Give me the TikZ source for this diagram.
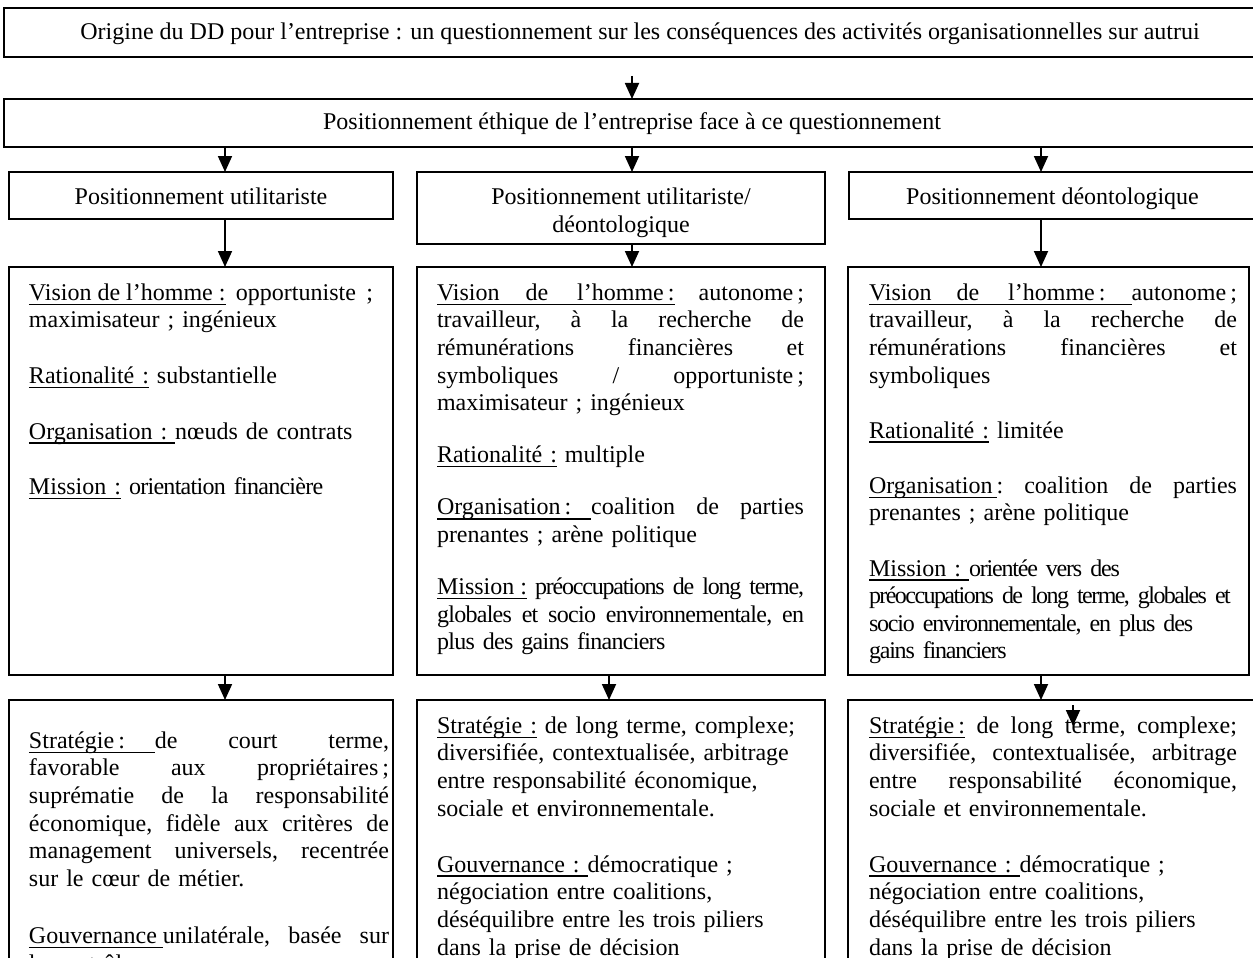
\documentclass[tikz,border=0pt]{standalone}
\usepackage{fontspec}
\setmainfont{Liberation Serif}
\newfontfamily\tight[LetterSpace=-3]{Liberation Serif}
\newfontfamily\tighter[LetterSpace=-5]{Liberation Serif}
\newfontfamily\tightest[LetterSpace=-6.5]{Liberation Serif}
\usetikzlibrary{arrows.meta}

\newcommand\ulabel[1]{\setbox0\hbox{#1}%
  \rlap{\vrule width\wd0 height -3.2pt depth 4.6pt}\box0\relax}
\newcommand\jl[1]{\hbox to\hsize{\frenchspacing
  \spaceskip=\fontdimen2\font plus 1fil minus \fontdimen4\font\strut#1}}
\newcommand\rl[1]{\hbox{\strut#1}}
\newcommand\celltext[6]{\hbox{\hskip#2\relax\vbox to #1{\hsize=\dimexpr\linewidth-#2-#3\relax
  \def\cellgap{\vskip#4\relax}\vskip#5\relax #6\vfil}}}

\begin{document}
\begin{tikzpicture}[x=1pt,y=-1pt,font=\fontsize{24}{27.6}\selectfont,
  box/.style={draw, line width=1.8pt, inner sep=0pt, outer sep=0pt},
  titlebox/.style={box, text height=17pt, text depth=#1},
  cell/.style={box, anchor=north west},
  arr/.style={line width=1.8pt, -{Triangle[width=14pt,length=16pt]}}]

\useasboundingbox (0,0) rectangle (1253,958);
\clip (0,0) rectangle (1253,958);

\node[titlebox=3pt, minimum width=1272pt, minimum height=49pt] (origine) at (640,32.5)
  {Origine du DD pour l’entreprise : un questionnement sur les conséquences des activités organisationnelles sur autrui};

\node[box, minimum width=1272pt, minimum height=48pt] (ethique) at (640,123) {};
\node (ethiquetxt) at (632,124) {Positionnement éthique de l’entreprise face à ce questionnement};

\node[titlebox=0pt, minimum width=384pt, minimum height=47pt] (util) at (201,195.5) {Positionnement utilitariste};
\node[box, minimum width=408pt, minimum height=72pt] (mixte) at (621,208) {};
\node[align=center] (mixtetxt) at (621,213) {Positionnement utilitariste/\\déontologique};
\node[titlebox=0pt, minimum width=407pt, minimum height=47pt] (deonto) at (1052.5,195.5) {Positionnement déontologique};

\node[cell, text width=384pt] (vis1) at (9,267) {\celltext{408pt}{20pt}{20pt}{28pt}{14pt}{%
\jl{\ulabel{Vision de l’homme :} opportuniste ;}
\rl{maximisateur ; ingénieux}
\cellgap
\rl{\ulabel{Rationalité :} substantielle}
\cellgap
\rl{\ulabel{Organisation :\ }nœuds de contrats}
\cellgap
\rl{\ulabel{Mission :} {\tight orientation financière}}}};

\node[cell, text width=408pt] (vis2) at (417,267) {\celltext{408pt}{20pt}{21pt}{24.5pt}{14pt}{%
\jl{\ulabel{Vision\hspace{26pt}de\hspace{29pt}l’homme\,:} autonome\,;}
\jl{travailleur, à la recherche de}
\jl{rémunérations financières et}
\jl{symboliques / opportuniste\,;}
\rl{maximisateur ; ingénieux}
\cellgap
\rl{\ulabel{Rationalité :} multiple}
\cellgap
\jl{\ulabel{Organisation\,:\hspace{20pt}}coalition de parties}
\rl{prenantes ; arène politique}
\cellgap
\jl{\ulabel{Mission :} {\tighter préoccupations de long terme,}}
\jl{\tight globales et socio environnementale, en}
\rl{\tight plus des gains financiers}}};

\node[cell, text width=401pt] (vis3) at (848,267) {\celltext{408pt}{21pt}{12pt}{27.5pt}{14pt}{%
\jl{\ulabel{Vision\hspace{25pt}de\hspace{29pt}l’homme\,:\hspace{26pt}}autonome ;}
\jl{travailleur, à la recherche de}
\jl{rémunérations financières et}
\rl{symboliques}
\cellgap
\rl{\ulabel{Rationalité :} limitée}
\cellgap
\jl{\ulabel{Organisation\,}: coalition de parties}
\rl{prenantes ; arène politique}
\cellgap
\rl{\ulabel{Mission :\ }\tighter orientée vers des}
\rl{\tightest préoccupations de long terme, globales et}
\rl{\tighter socio environnementale, en plus des}
\rl{\tighter gains financiers}}};

\node[cell, text width=384pt] (strat1) at (9,700) {\celltext{270pt}{20pt}{4pt}{29.5pt}{29pt}{%
\jl{\ulabel{Stratégie\,:\hspace{30pt}}de court terme,}
\jl{favorable aux propriétaires\,;}
\jl{suprématie de la responsabilité}
\jl{économique, fidèle aux critères de}
\jl{management universels, recentrée}
\rl{sur le cœur de métier.}
\cellgap
\jl{\ulabel{Gouvernance\ }unilatérale, basée sur}
\rl{le contrôle.}}};

\node[cell, text width=408pt] (strat2) at (417,700) {\celltext{270pt}{20pt}{21pt}{28.5pt}{14pt}{%
\rl{\ulabel{Stratégie :} de long terme, complexe;}
\rl{diversifiée, contextualisée, arbitrage}
\rl{entre responsabilité économique,}
\rl{sociale et environnementale.}
\cellgap
\rl{\ulabel{Gouvernance :\ }démocratique ;}
\rl{négociation entre coalitions,}
\rl{déséquilibre entre les trois piliers}
\rl{dans la prise de décision}}};

\node[cell, text width=410pt] (strat3) at (848,700) {\celltext{270pt}{21pt}{21pt}{28.5pt}{14pt}{%
\jl{\ulabel{Stratégie\,:} de long terme, complexe;}
\jl{diversifiée, contextualisée, arbitrage}
\jl{entre responsabilité économique,}
\rl{sociale et environnementale.}
\cellgap
\rl{\ulabel{Gouvernance :\ }démocratique ;}
\rl{négociation entre coalitions,}
\rl{déséquilibre entre les trois piliers}
\rl{dans la prise de décision}}};

\coordinate (topA) at (632,76);
\coordinate (xa) at (225,0);
\coordinate (xb) at (632,0);
\coordinate (xc) at (1041,0);
\coordinate (xd) at (609,0);
\coordinate (strayA) at (1073,705);
\coordinate (strayB) at (1073,726);

\draw[arr] (topA) -- (ethique.north -| topA);
\foreach \s/\t/\x in {ethique/util/xa, ethique/mixte/xb, ethique/deonto/xc,
  util/vis1/xa, mixte/vis2/xb, deonto/vis3/xc,
  vis1/strat1/xa, vis2/strat2/xd, vis3/strat3/xc}
  \draw[arr] (\s.south -| \x) -- (\t.north -| \x);
\draw[arr] (strayA) -- (strayB);
\end{tikzpicture}
\end{document}
